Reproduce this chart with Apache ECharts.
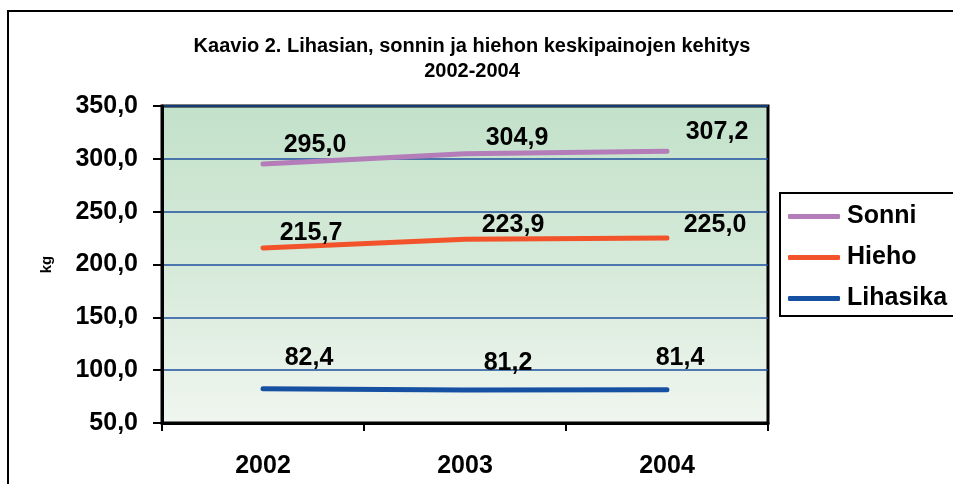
<!DOCTYPE html>
<html>
<head>
<meta charset="utf-8">
<script src="https://cdn.jsdelivr.net/npm/echarts@6/dist/echarts.min.js"></script>
<style>
  html, body { margin: 0; padding: 0; background: #fff; }
  #chart { width: 953px; height: 484px; }
</style>
</head>
<body>
<div id="chart"></div>
<script>
const years = ["2002", "2003", "2004"];
const seriesNames = ["Sonni", "Hieho", "Lihasika"];
const sonni = [295.0, 304.9, 307.2];
const hieho = [215.7, 223.9, 225.0];
const lihasika = [82.4, 81.2, 81.4];
const yTicks = [50, 100, 150, 200, 250, 300, 350];

// where Excel placed the value labels, relative to each point
const labelShift = {
  Sonni: [[52, -19], [52, -16], [50, -19]],
  Hieho: [[48, -15], [48, -14], [48, -13]],
  Lihasika: [[46, -31], [43, -27], [13, -32]],
};
const colors = { Sonni: "#b47cb8", Hieho: "#f2532a", Lihasika: "#1650a2" };
const font = "'Liberation Sans', Arial, Helvetica, sans-serif";

const fmt = (v) => v.toFixed(1).replace(".", ",");

function makeSeries(name, values) {
  return {
    name: name,
    type: "line",
    data: values.map((v, i) => ({
      value: v,
      label: { offset: labelShift[name][i] },
    })),
    symbol: "circle",
    symbolSize: 1,
    itemStyle: { color: colors[name] },
    lineStyle: { color: colors[name], width: 5, cap: "round" },
    label: {
      show: true,
      position: "inside",
      formatter: (p) => fmt(p.value),
      color: "#000",
      fontFamily: font,
      fontWeight: "bold",
      fontSize: 25,
    },
    emphasis: { disabled: true },
  };
}

const chart = echarts.init(document.getElementById("chart"));
chart.setOption({
  animation: false,
  textStyle: { fontFamily: font },
  title: {
    text: "Kaavio 2. Lihasian, sonnin ja hiehon keskipainojen kehitys\n2002-2004",
    left: 472,
    top: 34,
    padding: 0,
    textAlign: "center",
    textStyle: {
      fontFamily: font,
      fontWeight: "bold",
      fontSize: 20,
      lineHeight: 25,
      color: "#000",
    },
  },
  graphic: [
    {
      type: "rect",
      shape: { x: 8, y: 11, width: 1000, height: 600 },
      style: { fill: "none", stroke: "#000", lineWidth: 2 },
      silent: true,
    },
  ],
  legend: {
    orient: "vertical",
    left: 780,
    top: 193,
    padding: [11, 30, 5, 8],
    itemGap: 16,
    itemWidth: 52,
    itemHeight: 5,
    icon: "roundRect",
    borderColor: "#000",
    borderWidth: 2,
    data: seriesNames,
    textStyle: {
      fontFamily: font,
      fontWeight: "bold",
      fontSize: 25,
      color: "#000",
      padding: [0, 0, 0, 2],
    },
  },
  grid: {
    left: 162,
    top: 106,
    right: 185,
    bottom: 61,
    show: true,
    borderColor: "#000",
    borderWidth: 3,
    backgroundColor: {
      type: "linear",
      x: 0, y: 0, x2: 0, y2: 1,
      colorStops: [
        { offset: 0, color: "#c2e1ca" },
        { offset: 0.5, color: "#d6ead9" },
        { offset: 1, color: "#f0f6f0" },
      ],
    },
  },
  xAxis: {
    type: "category",
    data: years,
    boundaryGap: true,
    axisLine: { lineStyle: { color: "#000", width: 3 } },
    axisTick: { show: true, length: 8, lineStyle: { color: "#000", width: 2 } },
    axisLabel: {
      margin: 31,
      color: "#000",
      fontFamily: font,
      fontWeight: "bold",
      fontSize: 25,
    },
  },
  yAxis: {
    type: "value",
    min: yTicks[0],
    max: yTicks[yTicks.length - 1],
    interval: 50,
    name: "kg",
    nameLocation: "middle",
    nameGap: 108,
    nameTextStyle: { color: "#000", fontFamily: font, fontWeight: "bold", fontSize: 15 },
    axisLine: { show: true, lineStyle: { color: "#000", width: 3 } },
    axisTick: { show: true, length: 9, lineStyle: { color: "#000", width: 2 } },
    splitLine: { lineStyle: { color: "#1d4f9e", width: 1.5 } },
    axisLabel: {
      margin: 24,
      color: "#000",
      fontFamily: font,
      fontWeight: "bold",
      fontSize: 25,
      formatter: (v) => fmt(v),
    },
  },
  series: [
    makeSeries("Sonni", sonni),
    makeSeries("Hieho", hieho),
    makeSeries("Lihasika", lihasika),
  ],
});
</script>
</body>
</html>
